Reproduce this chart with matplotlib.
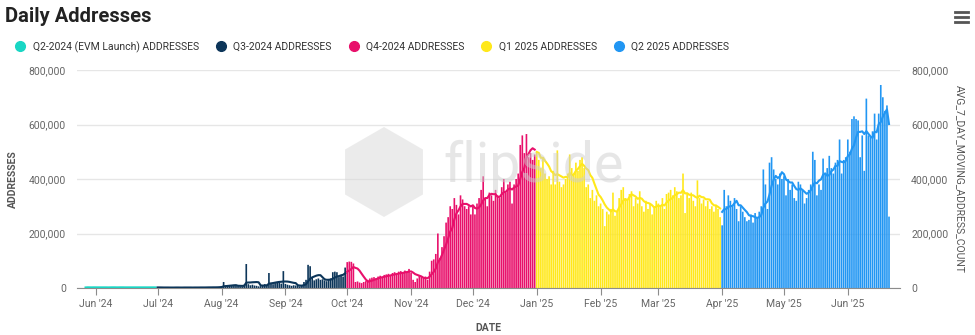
import pandas as pd
import matplotlib
matplotlib.use("Agg")
import matplotlib.pyplot as plt
import matplotlib.dates as mdates
from matplotlib.patches import RegularPolygon
from matplotlib.lines import Line2D
from matplotlib.ticker import FuncFormatter

plt.rcParams['font.family'] = ['Roboto', 'DejaVu Sans']

# quarters shown as separate series
quarter_names = ["Q2-2024 (EVM Launch) ADDRESSES", "Q3-2024 ADDRESSES", "Q4-2024 ADDRESSES",
                 "Q1 2025 ADDRESSES", "Q2 2025 ADDRESSES"]
quarter_colors = ["#19d6c4", "#0c3559", "#e8106b", "#ffe81a", "#2196f3"]
quarter_starts = ["2024-05-27", "2024-07-01", "2024-10-01", "2025-01-01", "2025-04-01"]

# daily addresses, in thousands
q2_2024 = [2, 3, 2, 2, 3, 2, 2, 2, 3, 2, 2, 2, 3, 3, 2, 2, 2, 3, 2, 2, 3, 2, 2, 2, 3,
           2, 2, 3, 2, 2, 2, 3, 2, 2, 2]
q3_2024 = [2, 2, 1, 2, 2, 2, 1, 2, 2, 2, 2, 1, 2, 2, 2, 2, 2, 1, 2, 2, 2, 3, 2, 2, 2,
           3, 2, 3, 3, 3, 4,
           6, 22, 8, 7, 9, 8, 10, 9, 7, 6, 5, 12, 88, 14, 10, 12, 9, 8, 6, 7, 10, 14, 12, 55, 15,
           14, 18, 20, 22, 16, 62,
           15, 12, 10, 8, 10, 9, 8, 6, 10, 22, 30, 85, 80, 40, 28, 32, 35, 30, 32, 28, 25, 30, 35, 58, 60,
           58, 40, 45, 42, 75]
q4_2024 = [95, 97, 96, 90, 22, 24, 20, 18, 22, 25, 30, 35, 38, 40, 36, 42, 45, 40, 48, 50,
           52, 46, 55, 58, 50, 60, 62, 55, 64, 60, 70,
           55, 30, 22, 35, 45, 40, 38, 42, 30, 60, 100, 105, 125, 200, 110, 150, 190, 240, 260, 300,
           290, 330, 305, 270, 340, 325, 300, 290, 300, 270,
           300, 270, 310, 330, 360, 410, 330, 300, 350, 340, 320, 360, 340, 330, 370, 400, 350, 380,
           390, 310, 380, 400, 420, 525, 560, 495, 565, 480, 495, 470, 490]
q1_2025 = [500, 470, 440, 480, 420, 400, 410, 380, 430, 380, 505, 390, 370, 380, 400, 420, 490,
           440, 420, 460, 430, 470, 480, 440, 370, 380, 330, 360, 320, 340, 300,
           310, 290, 227, 280, 270, 290, 350, 265, 280, 330, 360, 370, 330, 320, 345, 355, 300,
           330, 310, 355, 300, 280, 320, 290, 310, 270, 300, 320,
           310, 300, 330, 290, 345, 350, 360, 340, 370, 355, 330, 340, 420, 275, 345, 330, 350,
           320, 300, 395, 330, 310, 325, 300, 320, 290, 300, 280, 305, 290, 260]
q2_2025 = [230, 360, 300, 340, 320, 300, 330, 290, 245, 300, 280, 260, 245, 250, 270, 240, 275,
           260, 280, 300, 435, 380, 290, 460, 480, 435, 400, 380, 420, 400,
           410, 340, 400, 360, 380, 330, 320, 390, 380, 360, 310, 330, 360, 380, 500, 470, 340,
           380, 360, 475, 420, 440, 485, 440, 420, 460, 470, 545, 420, 470, 480,
           545, 500, 620, 630, 620, 615, 480, 560, 430, 695, 560, 555, 575, 640, 545, 640, 745,
           700, 650, 670, 262]

quarters = [q2_2024, q3_2024, q4_2024, q1_2025, q2_2025]

# one daily series so the 7 day average runs across quarter borders
parts = []
for start, vals in zip(quarter_starts, quarters):
    idx = pd.date_range(start, periods=len(vals), freq="D")
    parts.append(pd.Series([v * 1000 for v in vals], index=idx))
daily = pd.concat(parts)
avg7 = daily.rolling(7, min_periods=1).mean()

fig = plt.figure(figsize=(9.75, 3.35), dpi=100)
ax = fig.add_axes([77 / 975, 1 - 288 / 335, 823 / 975, 218 / 335])
ax2 = ax.twinx()

for part, color in zip(parts, quarter_colors):
    ax.bar(part.index, part.values, width=0.8, color=color, linewidth=0, snap=False, zorder=2)

for part, color in zip(parts, quarter_colors):
    ax2.plot(part.index, avg7[part.index].values, color=color, lw=1.5, zorder=3)

ax.set_xlim(pd.Timestamp("2024-05-22 20:00"), pd.Timestamp("2025-06-26 08:00"))
for a in (ax, ax2):
    a.set_ylim(0, 800000)
    a.set_yticks([0, 200000, 400000, 600000, 800000])
    a.yaxis.set_major_formatter(FuncFormatter(lambda v, p: f"{int(v):,}"))
    a.tick_params(axis="y", length=0, labelsize=7.5, labelcolor="#666666", pad=8)
    for s in a.spines.values():
        s.set_visible(False)

ax.yaxis.grid(True, color="#e6e6e6", lw=1)
ax.set_axisbelow(True)
ax.spines["bottom"].set_visible(True)
ax.spines["bottom"].set_color("#8c8c8c")

ax.xaxis.set_major_locator(mdates.MonthLocator())
ax.xaxis.set_major_formatter(mdates.DateFormatter("%b '%y"))
ax.tick_params(axis="x", length=5, color="#8c8c8c", labelsize=7.5, labelcolor="#666666", pad=3)

ax.set_ylabel("ADDRESSES", fontsize=7.5, color="#555555", fontweight="bold", labelpad=8)
ax2.set_ylabel("AVG_7_DAY_MOVING_ADDRESS_COUNT", fontsize=7.5, color="#555555",
               rotation=270, labelpad=12)
ax.set_xlabel("DATE", fontsize=7.5, color="#555555", fontweight="bold", labelpad=10)

# flipside watermark
fig.add_artist(RegularPolygon((3.84, 1.63), numVertices=6, radius=0.45, orientation=0,
                              transform=fig.dpi_scale_trans, facecolor="#d9d9d9",
                              edgecolor="none", alpha=0.5, zorder=5))
fig.text(443 / 975, 1 - 166 / 335, "flipside", fontsize=40, color="#cfcfcf", alpha=0.5,
         va="center", ha="left", zorder=5)

# title, legend, menu icon
fig.text(5 / 975, 1 - 17 / 335, "Daily Addresses", fontsize=14.5, fontweight="bold",
         color="#222222", va="center")
handles = [Line2D([], [], marker="o", linestyle="", markersize=7, markerfacecolor=c,
                  markeredgecolor=c) for c in quarter_colors]
fig.legend(handles, quarter_names, loc="upper left", bbox_to_anchor=(0.006, 0.89), ncol=5,
           frameon=False, fontsize=7.5, handletextpad=0.2, columnspacing=1.1,
           borderaxespad=0, labelcolor="#333333")
for yy in (12, 17, 22):
    fig.add_artist(Line2D([955 / 975, 968 / 975], [1 - yy / 335, 1 - yy / 335],
                          color="#555555", lw=2))

fig.savefig("out.png", dpi=100)
